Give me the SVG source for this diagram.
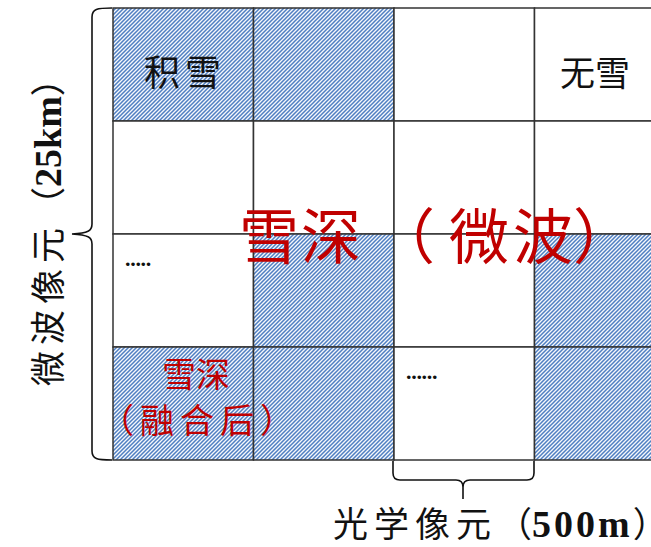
<svg xmlns="http://www.w3.org/2000/svg" width="651" height="547" viewBox="0 0 651 547">
<defs>
<pattern id="hatch" patternUnits="userSpaceOnUse" width="4" height="4">
<rect width="4" height="4" fill="#f6f8fc"/>
<path d="M-1,1 L1,-1 M0,4 L4,0 M3,5 L5,3" stroke="#4f7fc2" stroke-width="1.5"/>
</pattern>
<style>
.cell{stroke:#333;stroke-width:1.5}
.w{fill:#fff}
.h{fill:url(#hatch)}
.cjk{font-family:"Noto Sans CJK SC","Noto Sans CJK JP",sans-serif}
.jp{font-family:"Noto Sans CJK JP","Noto Sans CJK SC",sans-serif}
.blk{fill:#111}
.red{fill:#c00000}
.num{font-family:"Liberation Serif",serif;font-weight:bold}
.brace{fill:none;stroke:#111;stroke-width:1.6}
.dots{font-family:"Liberation Serif",serif;font-size:22px;fill:#111;font-weight:bold}
</style>
</defs>
<rect width="651" height="547" fill="#fff"/>
<g id="cells">
<rect id="cell-r0c0" class="cell h" x="113" y="8" width="140.5" height="113"/>
<rect id="cell-r0c1" class="cell h" x="253.5" y="8" width="140.5" height="113"/>
<rect id="cell-r0c2" class="cell w" x="394" y="8" width="140.5" height="113"/>
<rect id="cell-r0c3" class="cell w" x="534.5" y="8" width="130" height="113"/>
<rect id="cell-r1c0" class="cell w" x="113" y="121" width="140.5" height="113"/>
<rect id="cell-r1c1" class="cell w" x="253.5" y="121" width="140.5" height="113"/>
<rect id="cell-r1c2" class="cell w" x="394" y="121" width="140.5" height="113"/>
<rect id="cell-r1c3" class="cell w" x="534.5" y="121" width="130" height="113"/>
<rect id="cell-r2c0" class="cell w" x="113" y="234" width="140.5" height="113"/>
<rect id="cell-r2c1" class="cell h" x="253.5" y="234" width="140.5" height="113"/>
<rect id="cell-r2c2" class="cell w" x="394" y="234" width="140.5" height="113"/>
<rect id="cell-r2c3" class="cell h" x="534.5" y="234" width="130" height="113"/>
<rect id="cell-r3c0" class="cell h" x="113" y="347" width="140.5" height="113"/>
<rect id="cell-r3c1" class="cell h" x="253.5" y="347" width="140.5" height="113"/>
<rect id="cell-r3c2" class="cell w" x="394" y="347" width="140.5" height="113"/>
<rect id="cell-r3c3" class="cell h" x="534.5" y="347" width="130" height="113"/>
</g>
<g id="label-snow"><text class="cjk blk" x="185" y="86" font-size="36" letter-spacing="5" text-anchor="middle">积雪</text></g>
<g id="label-nosnow"><text class="cjk blk" x="595" y="86" font-size="35" text-anchor="middle">无雪</text></g>
<g id="label-dots-1"><text class="dots" x="125" y="266" letter-spacing="-0.3">.....</text></g>
<g id="label-dots-2"><text class="dots" x="406" y="379" letter-spacing="-0.3">......</text></g>
<g id="label-fused-depth"><text class="cjk red" x="196" y="387" font-size="34" text-anchor="middle">雪深</text><text class="cjk red" x="100" y="433" font-size="34" letter-spacing="6"><tspan class="jp">（</tspan>融合后<tspan class="jp">）</tspan></text></g>
<g id="label-microwave-depth"><text class="cjk red" x="239" y="259" font-size="60"><tspan letter-spacing="2">雪深</tspan><tspan class="jp" dx="12" letter-spacing="3">（</tspan><tspan dx="11" letter-spacing="4">微波</tspan><tspan class="jp" dx="-4">）</tspan></text></g>
<g id="connectors">
<path class="brace" d="M112,8 C97,8 92,9 92,17 L92,224 C92,231 88,233 72,234 C88,235 92,237 92,244 L92,451 C92,459 97,460 112,460"/>
<path class="brace" d="M393,461 L393,473 Q393,480 400,480 L456,480 Q463,480 463,487 L463,499 M463,487 Q463,480 470,480 L527,480 Q534,480 534,473 L534,461"/>
</g>
<g id="label-microwave-pixel"><text class="cjk blk" font-size="35" transform="translate(61,386) rotate(-90)"><tspan letter-spacing="6">微波像元</tspan><tspan class="jp">（</tspan><tspan class="num" font-size="38">25km</tspan>）</text></g>
<g id="label-optical-pixel"><text class="cjk blk" x="333" y="537" font-size="35"><tspan letter-spacing="6">光学像元</tspan>（<tspan class="num" font-size="38" letter-spacing="3">500m</tspan><tspan class="jp">）</tspan></text></g>
</svg>
